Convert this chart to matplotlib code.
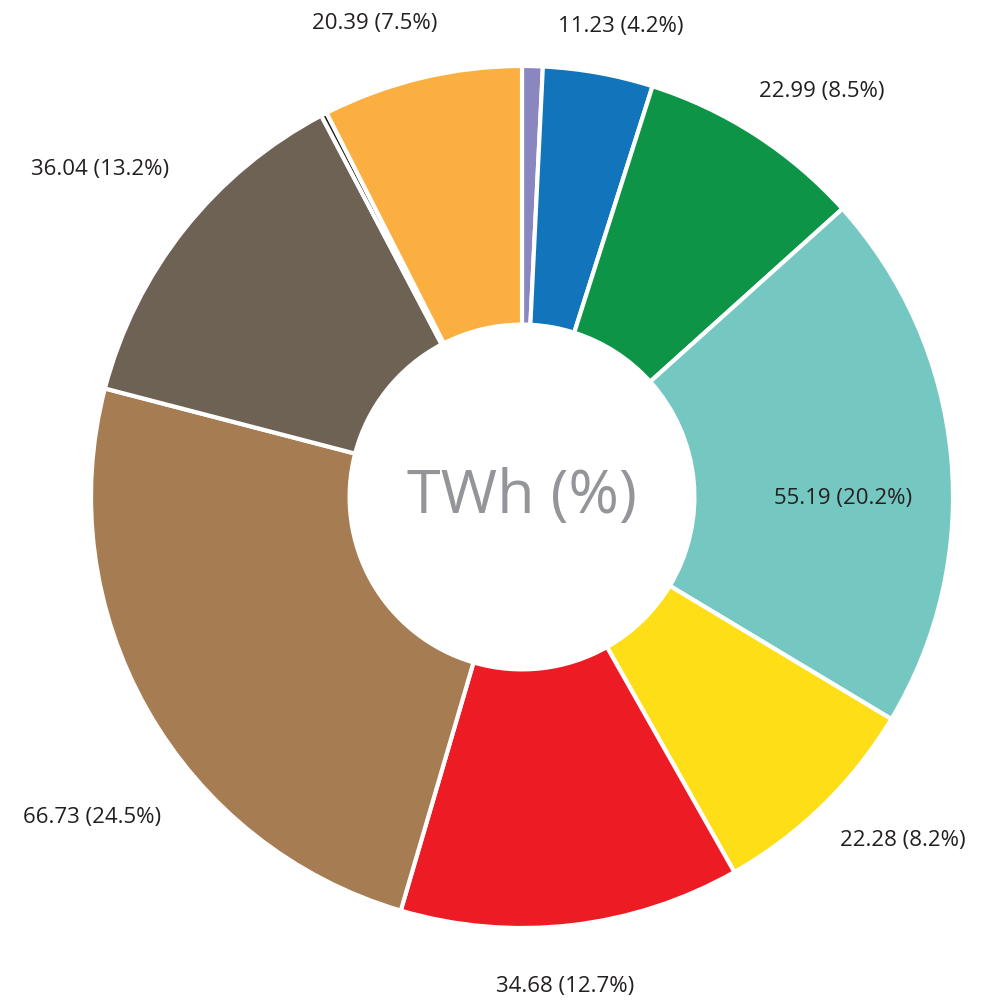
import numpy as np
import matplotlib.pyplot as plt

# values in TWh, clockwise from 12 o'clock
values = [2.1, 11.23, 22.99, 55.19, 22.28, 34.68, 66.73, 36.04, 0.6, 20.39]
labels = ['', '11.23 (4.2%)', '22.99 (8.5%)', '55.19 (20.2%)', '22.28 (8.2%)',
          '34.68 (12.7%)', '66.73 (24.5%)', '36.04 (13.2%)', '', '20.39 (7.5%)']
colors = ['#8A86C0', '#1275BC', '#0E9447', '#75C8C1', '#FEDE17',
          '#ED1C24', '#A67C52', '#6D6254', '#231F20', '#FBAF40']

# label placement: distance from centre (in radii) and angular nudge (deg)
label_r = [0, 1.115, 1.17, 0.745, 1.19, 1.14, 1.245, 1.24, 0, 1.15]
label_shift = [0, -1.7, -3.6, -5.7, 3.7, -1.5, 7.2, 0.6, 0, 3.8]

fig = plt.figure(figsize=(9.84, 10), dpi=100)
ax = fig.add_axes([0, 0, 1, 1])

wedges, _ = ax.pie(values, colors=colors, startangle=90, counterclock=False,
                   radius=1, wedgeprops=dict(width=0.6, edgecolor='white', linewidth=3))

for w, lab, r, s in zip(wedges, labels, label_r, label_shift):
    if not lab:
        continue
    ang = np.deg2rad((w.theta1 + w.theta2) / 2 + s)
    ax.text(r * np.cos(ang), r * np.sin(ang), lab, ha='center', va='center',
            fontsize=16, color='#231F20', family='Open Sans')

ax.text(0, 0, 'TWh (%)', ha='center', va='center', fontsize=44,
        color='#939598', family='Open Sans')

ax.set_xlim(-522 / 431, 462 / 431)
ax.set_ylim(-503 / 431, 497 / 431)
ax.set_aspect('equal')
ax.axis('off')

fig.savefig('out.png', dpi=100)
